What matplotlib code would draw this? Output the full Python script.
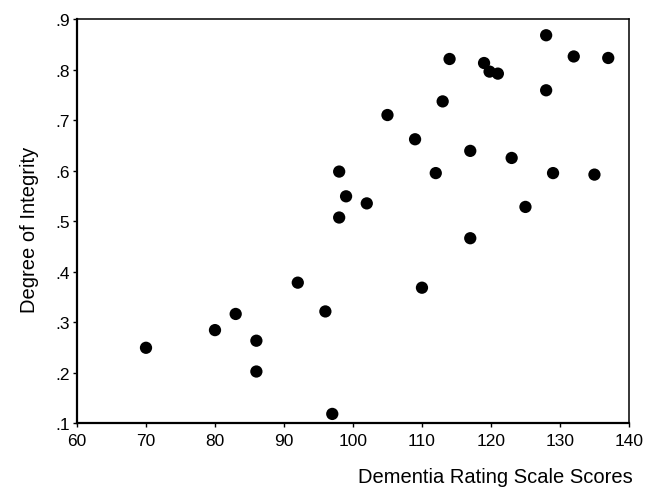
import matplotlib
matplotlib.use("Agg")
import matplotlib.pyplot as plt
import numpy as np

plt.rcParams['font.family'] = ['Liberation Sans', 'DejaVu Sans']

# Dementia Rating Scale scores vs degree of integrity
drs = [70, 80, 83, 86, 86, 92, 96, 97,
       110, 117,
       128, 114, 119, 119.8, 121, 132, 137, 128, 113, 105,
       109, 117, 123, 98, 112, 129, 135, 99, 102, 98, 125]
integrity = [0.249, 0.284, 0.316, 0.263, 0.202, 0.378, 0.321, 0.118,
             0.368, 0.466,
             0.868, 0.821, 0.813, 0.796, 0.792, 0.826, 0.823, 0.759, 0.737, 0.710,
             0.662, 0.639, 0.625, 0.598, 0.595, 0.595, 0.592, 0.549, 0.535, 0.507, 0.528]

x_ticks = [60, 70, 80, 90, 100, 110, 120, 130, 140]
y_ticks = [0.1, 0.2, 0.3, 0.4, 0.5, 0.6, 0.7, 0.8, 0.9]

fig = plt.figure(figsize=(6.61, 4.89), dpi=100)
ax = fig.add_axes([0.1165, 0.1329, 0.835, 0.826])

ax.scatter(drs, integrity, s=78, color='black', edgecolors='none', zorder=3)

ax.set_xlim(60, 140)
ax.set_ylim(0.1, 0.9)
ax.set_xticks(x_ticks)
ax.set_yticks(y_ticks)
ax.set_yticklabels([f"{v:.1f}".lstrip('0') for v in y_ticks])
ax.tick_params(axis='both', direction='out', length=3, width=1,
               labelsize=12.5, pad=2, colors='black')
ax.tick_params(axis='x', pad=4)

for side in ['left', 'bottom']:
    ax.spines[side].set_linewidth(1.6)
for side in ['top', 'right']:
    ax.spines[side].set_linewidth(1.1)

ax.set_xlabel('Dementia Rating Scale Scores', fontsize=14.5)
ax.xaxis.set_label_coords(1.006, -0.108)
ax.xaxis.label.set_horizontalalignment('right')
ax.set_ylabel('Degree of Integrity', fontsize=14.5)
ax.yaxis.set_label_coords(-0.068, 0.48)

fig.savefig('out.png', dpi=100)
